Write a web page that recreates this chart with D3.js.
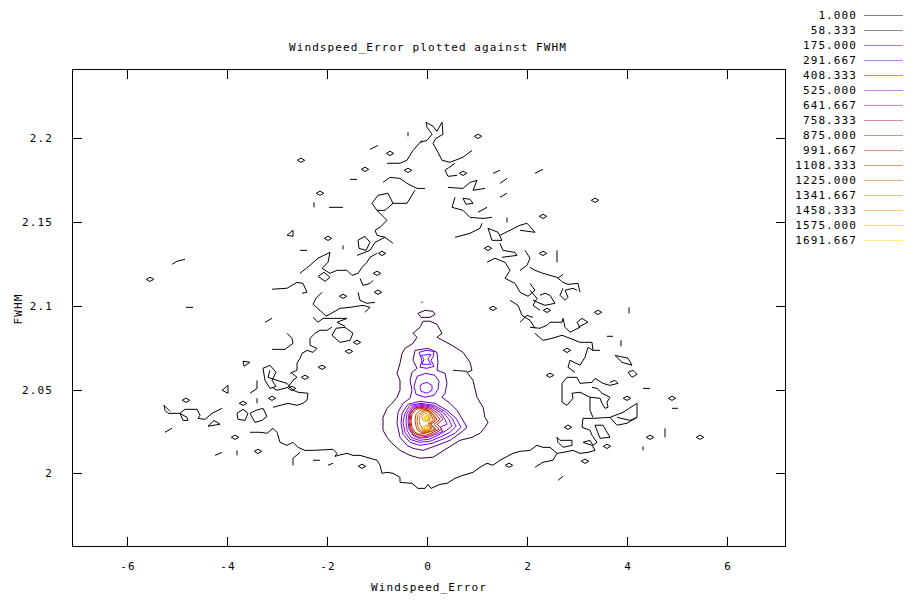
<!DOCTYPE html>
<html>
<head>
<meta charset="utf-8">
<script src="https://cdn.jsdelivr.net/npm/d3@7"></script>
<style>
body{margin:0;background:#fff}
text{font-family:"DejaVu Sans Mono",monospace;font-size:11px;letter-spacing:1.1px;fill:#000}
</style>
</head>
<body>
<svg id="chart" width="914" height="605"></svg>
<script>
const title = 'Windspeed_Error plotted against FWHM'
const xLabel = 'Windspeed_Error'
const yLabel = 'FWHM'
const xTicks = [-6, -4, -2, 0, 2, 4, 6]
const yTicks = [2, 2.05, 2.1, 2.15, 2.2]
const xRange = [-7.1, 7.16]
const yRange = [1.9563, 2.2411]
const zMax = 1750
const levels = [1, 58.333, 175, 291.667, 408.333, 525, 641.667, 758.333, 875, 991.667, 1108.333, 1225, 1341.667, 1458.333, 1575, 1691.667]

// level 1.000 : noisy edge of the distribution
const level1Lines = [
    [[-0.14,2.1976],[0,2.1988],[0.10,2.2024],[0,2.2066],[-0.02,2.2096],[0.12,2.2072],[0.20,2.2042],[0.30,2.2096],[0.32,2.2024],[0.18,2.2000],[0.12,2.1970],[0.22,2.1916],[0.30,2.1869],[0.46,2.1857],[0.72,2.1887],[0.90,2.1928]],
    [[-0.10,2.1988],[-0.28,2.1928],[-0.40,2.1869],[-0.54,2.1851],[-0.80,2.1851]],
    [[-0.88,2.1737],[-0.74,2.1767],[-0.54,2.1761],[-0.40,2.1731],[-0.20,2.1701],[-0.04,2.1701]],
    [[-0.24,2.1690],[-0.40,2.1612],[-0.68,2.1612],[-0.78,2.1672],[-0.98,2.1660],[-1.10,2.1612],[-1.00,2.1570],[-0.84,2.1570],[-0.68,2.1612]],
    [[-1.00,2.1570],[-0.80,2.1510],[-0.94,2.1469],[-1.04,2.1451],[-1.00,2.1421],[-0.84,2.1409],[-0.68,2.1373]],
    [[-1.40,2.1301],[-1.14,2.1331],[-1.04,2.1379],[-0.84,2.1409]],
    [[-1.38,2.1391],[-1.24,2.1415],[-1.14,2.1379],[-1.22,2.1331],[-1.36,2.1343],[-1.38,2.1391]],
    [[-2.54,2.1194],[-2.34,2.1242],[-2.18,2.1284],[-1.94,2.1319],[-1.98,2.1260],[-2.10,2.1224],[-1.94,2.1194],[-1.80,2.1212],[-1.60,2.1212],[-1.50,2.1182],[-1.38,2.1194],[-1.30,2.1230],[-1.20,2.1260],[-1.14,2.1290],[-1.00,2.1313]],
    [[-2.18,2.1176],[-2.06,2.1200],[-1.94,2.1170],[-2.04,2.1146],[-2.18,2.1176]],
    [[-1.34,2.1164],[-1.28,2.1122],[-1.14,2.1134],[-1.08,2.1152]],
    [[-3.10,2.1099],[-2.80,2.1105],[-2.60,2.1140],[-2.48,2.1134],[-2.40,2.1081],[-2.50,2.1075]],
    [[-1.38,2.1081],[-1.34,2.1033],[-1.20,2.1015],[-1.04,2.1021]],
    [[-2.10,2.1081],[-2.22,2.1045],[-2.28,2.1009],[-2.14,2.0973],[-2.02,2.0937],[-1.88,2.0961],[-1.74,2.0985],[-1.54,2.0991],[-1.28,2.1003],[-1.14,2.0991],[-1.24,2.0961]],
    [[-2.28,2.0931],[-2.18,2.0902],[-2.08,2.0925],[-1.94,2.0925],[-1.74,2.0925],[-1.60,2.0925],[-1.80,2.0902],[-1.64,2.0878]],
    [[-1.90,2.0824],[-1.82,2.0866],[-1.64,2.0872],[-1.48,2.0836],[-1.54,2.0794],[-1.74,2.0782],[-1.90,2.0824]],
    [[-3.10,2.0740],[-2.84,2.0740],[-2.68,2.0776],[-2.70,2.0806],[-2.80,2.0836]],
    [[-2.74,2.0597],[-2.60,2.0615],[-2.60,2.0657],[-2.54,2.0687],[-2.50,2.0716],[-2.40,2.0734],[-2.28,2.0722],[-2.20,2.0746],[-2.34,2.0764],[-2.34,2.0806],[-2.24,2.0836],[-2.14,2.0854],[-2.00,2.0854],[-1.90,2.0872]],
    [[-3.28,2.0627],[-3.14,2.0645],[-3.02,2.0603],[-3.10,2.0555],[-3.02,2.0519],[-3.14,2.0507],[-3.24,2.0555],[-3.28,2.0627]],
    [[-3.10,2.0513],[-3.00,2.0496],[-2.78,2.0513],[-2.68,2.0555],[-2.60,2.0573],[-2.70,2.0597]],
    [[-3.08,2.0394],[-2.78,2.0418],[-2.60,2.0406],[-2.48,2.0418],[-2.40,2.0436],[-2.38,2.0478],[-2.58,2.0484],[-2.68,2.0496],[-2.80,2.0537],[-3.00,2.0555],[-3.18,2.0573],[-3.14,2.0615]],
    [[-3.54,2.0358],[-3.42,2.0376],[-3.28,2.0388],[-3.20,2.0340],[-3.30,2.0316],[-3.44,2.0304],[-3.54,2.0358]],
    [[-5.24,2.0376],[-5.18,2.0358],[-4.94,2.0358],[-4.84,2.0382],[-4.60,2.0382],[-4.54,2.0346],[-4.58,2.0328],[-4.44,2.0322],[-4.30,2.0358],[-4.10,2.0388]],
    [[-5.24,2.0376],[-5.26,2.0406],[-5.14,2.0370]],
    [[-4.94,2.0358],[-4.80,2.0334],[-4.78,2.0316],[-4.88,2.0316],[-4.94,2.0358]],
    [[-3.54,2.0245],[-3.34,2.0245],[-3.20,2.0239],[-3.08,2.0269],[-3.00,2.0245],[-2.94,2.0185],[-2.80,2.0167],[-2.68,2.0185],[-2.58,2.0155],[-2.44,2.0137],[-2.28,2.0137],[-1.88,2.0143],[-1.80,2.0119],[-1.84,2.0101],[-1.78,2.0107],[-1.60,2.0119],[-1.48,2.0107],[-1.34,2.0107],[-1.14,2.0090],[-1.00,2.0078],[-0.94,2.0048],[-0.90,2.0000],[-0.80,2.0006],[-0.68,2.0000],[-0.54,1.9976],[-0.54,1.9946],[-0.30,1.9940],[-0.18,1.9910],[-0.04,1.9910],[0.02,1.9934],[0.08,1.9910],[0.26,1.9934],[0.40,1.9940],[0.56,1.9970],[0.72,1.9988],[0.92,2.0006],[1.06,2.0036],[1.20,2.0060],[1.32,2.0048],[1.46,2.0078],[1.72,2.0119],[1.86,2.0131],[2.06,2.0137],[2.20,2.0167],[2.32,2.0155],[2.46,2.0155],[2.60,2.0119],[2.72,2.0125],[2.92,2.0137],[3.06,2.0119],[3.22,2.0125],[3.36,2.0137],[3.30,2.0167],[3.12,2.0185]],
    [[-2.68,2.0048],[-2.68,2.0090],[-2.54,2.0125]],
    [[2.60,2.0119],[2.52,2.0078],[2.32,2.0066],[2.16,2.0036]],
    [[3.12,2.0185],[3.26,2.0197],[3.32,2.0167],[3.40,2.0185],[3.30,2.0227],[3.26,2.0257],[3.10,2.0275],[3.12,2.0328],[3.32,2.0328],[3.66,2.0334],[3.80,2.0287],[4.00,2.0299],[4.20,2.0334],[4.20,2.0418],[3.92,2.0364],[3.66,2.0334]],
    [[3.80,2.0334],[4.06,2.0316],[4.20,2.0334]],
    [[3.32,2.0334],[3.26,2.0376],[3.26,2.0454],[3.06,2.0484],[2.90,2.0478],[2.92,2.0448],[2.80,2.0406],[2.70,2.0424],[2.70,2.0537],[2.80,2.0573],[3.00,2.0573],[3.06,2.0537],[3.30,2.0543],[3.36,2.0567],[3.52,2.0537],[3.66,2.0525],[3.82,2.0537],[3.76,2.0555],[3.66,2.0543]],
    [[3.26,2.0454],[3.46,2.0448],[3.50,2.0418],[3.56,2.0388],[3.62,2.0394],[3.60,2.0424],[3.66,2.0454],[3.50,2.0478],[3.40,2.0507],[3.30,2.0513]],
    [[3.36,2.0287],[3.52,2.0287],[3.66,2.0215],[3.46,2.0209],[3.36,2.0287]],
    [[2.60,2.0215],[2.66,2.0197],[2.90,2.0197],[2.90,2.0167],[2.72,2.0155],[2.62,2.0185],[2.60,2.0215]],
    [[2.96,2.0603],[2.82,2.0633],[2.86,2.0675],[3.06,2.0645],[3.16,2.0693],[3.22,2.0752],[3.32,2.0734],[3.46,2.0734]],
    [[2.16,2.0836],[2.32,2.0794],[2.50,2.0806],[2.70,2.0824],[2.86,2.0806],[3.06,2.0782],[3.30,2.0782],[3.32,2.0734]],
    [[2.06,2.0872],[2.26,2.0866],[2.40,2.0884],[2.46,2.0902],[2.70,2.0902],[2.72,2.0925],[2.76,2.0872],[2.86,2.0842],[3.06,2.0872],[3.00,2.0902],[3.10,2.0925],[3.22,2.0902],[3.02,2.0872]],
    [[2.06,2.1230],[2.16,2.1212],[2.32,2.1194],[2.46,2.1182],[2.60,2.1170],[2.72,2.1140],[2.82,2.1128],[3.02,2.1134],[3.06,2.1081]],
    [[2.72,2.1105],[2.66,2.1063],[2.76,2.1033],[2.82,2.1051],[2.76,2.1093],[2.92,2.1105],[3.00,2.1093]],
    [[2.12,2.1033],[2.26,2.1015],[2.36,2.1003],[2.56,2.1015],[2.46,2.1063],[2.36,2.1075],[2.26,2.1063]],
    [[3.76,2.0704],[4.02,2.0687],[4.10,2.0645],[3.90,2.0663],[3.76,2.0704]],
    [[4.02,2.0603],[4.12,2.0615],[4.20,2.0591],[4.10,2.0573],[4.02,2.0603]],
    [[0.42,2.1707],[0.72,2.1701],[0.86,2.1737],[1.00,2.1749],[0.92,2.1690],[1.16,2.1701]],
    [[0.56,2.1648],[0.50,2.1588],[0.72,2.1570],[0.86,2.1528],[1.12,2.1522],[1.30,2.1528]],
    [[0.72,2.1642],[0.86,2.1636],[0.92,2.1612],[0.78,2.1606],[0.72,2.1642]],
    [[0.56,2.1409],[0.86,2.1433],[1.06,2.1463],[1.10,2.1493]],
    [[1.22,2.1463],[1.42,2.1439],[1.50,2.1391],[1.30,2.1391],[1.22,2.1463]],
    [[1.46,2.1421],[1.86,2.1481],[2.00,2.1493],[2.16,2.1439],[1.86,2.1451]],
    [[1.46,2.1373],[1.52,2.1331],[1.76,2.1319],[1.80,2.1301],[1.50,2.1290]],
    [[0.56,2.1851],[0.36,2.1809],[0.42,2.1773],[0.60,2.1779]],
    [[1.20,2.1260],[1.36,2.1284],[1.56,2.1260],[1.66,2.1212],[1.56,2.1164],[1.76,2.1134],[1.86,2.1081],[2.02,2.1057],[2.16,2.1093],[2.06,2.1134]],
    [[1.66,2.1033],[1.82,2.1003],[1.90,2.0943],[2.06,2.0913],[2.16,2.0866]],
    [[1.86,2.1212],[2.00,2.1242],[2.06,2.1284],[1.96,2.1331]],
    [[2.06,2.1093],[2.20,2.1045],[2.12,2.1003],[2.26,2.0973]],
    [[1.86,2.0902],[2.00,2.0943],[2.12,2.0931]],
    [[-5.10,2.1248],[-5.00,2.1266],[-4.84,2.1278]],
    [[-3.40,2.0555],[-3.40,2.0507],[-3.54,2.0478]],
    [[-3.98,2.0525],[-4.10,2.0496],[-3.98,2.0478],[-3.98,2.0525]],
    [[-4.38,2.0281],[-4.26,2.0316],[-4.14,2.0293],[-4.38,2.0281]],
    [[-3.80,2.0358],[-3.68,2.0382],[-3.58,2.0358],[-3.64,2.0316],[-3.78,2.0322],[-3.80,2.0358]],
    [[-3.68,2.0669],[-3.54,2.0663],[-3.66,2.0639],[-3.68,2.0669]],
    [[-2.80,2.1421],[-2.68,2.1451],[-2.68,2.1415],[-2.80,2.1421]]
]

// level 1.000 : tiny closed loops (centres)
const level1Loops = [
    [-2.52,2.1869],[-1.24,2.1815],[-2.14,2.1672],[-1.98,2.1403],[-0.90,2.1313],[-0.38,2.1809],[1.02,2.2012],[0.72,2.1791],
    [2.32,2.1534],[3.36,2.1630],[1.22,2.1343],[2.32,2.1313],[-5.54,2.1158],[-1.00,2.1194],[-0.98,2.1081],[-1.40,2.0782],
    [-2.10,2.0633],[-2.44,2.0573],[-2.70,2.0507],[-3.10,2.0448],[-3.68,2.0418],[-4.82,2.0436],[-3.84,2.0215],[-3.38,2.0131],
    [3.42,2.0961],[2.40,2.0973],[2.46,2.0585],[4.00,2.0448],[4.90,2.0448],[4.46,2.0215],[5.46,2.0215],[3.60,2.0161],
    [3.16,2.0072],[2.80,2.0734],[2.82,2.0275],[-0.74,2.1910],[-1.56,2.0728],[-1.68,2.1057],[-1.30,2.0042],[1.64,2.0048],
    [1.32,2.0985]
]

// level 1.000 : short open pieces [x1, y1, x2, y2]
const level1Ticks = [
    [-1.14,2.1934,-0.98,2.1958],[-0.38,2.2036,-0.38,2.2012],[-1.54,2.1755,-1.40,2.1755],[-2.26,2.1618,-2.26,2.1588],
    [-1.96,2.1588,-1.68,2.1588],[-2.54,2.1331,-2.40,2.1331],[-1.68,2.1361,-1.68,2.1337],[1.32,2.1791,1.46,2.1809],
    [2.16,2.1791,2.32,2.1815],[1.46,2.1731,1.60,2.1761],[1.46,2.1648,1.60,2.1672],[1.02,2.1558,1.20,2.1588],
    [1.60,2.1528,1.60,2.1498],[2.60,2.1331,2.60,2.1260],[2.62,2.1164,2.72,2.1188],[4.04,2.0991,4.04,2.0955],
    [3.60,2.0818,3.72,2.0818],[3.88,2.0794,3.88,2.0758],[4.32,2.0507,4.46,2.0507],[4.90,2.0388,5.02,2.0388],
    [4.76,2.0269,4.76,2.0215],[4.32,2.0161,4.32,2.0137],[2.62,1.9958,2.72,1.9982],[-5.24,2.0245,-5.10,2.0269],
    [-4.24,2.0107,-4.10,2.0125],[-3.80,2.0137,-3.80,2.0107],[-4.82,2.0991,-4.68,2.0991],[-3.24,2.0902,-3.10,2.0925],
    [-3.40,2.0448,-3.40,2.0418],[-2.28,2.0078,-2.14,2.0078],[-1.98,2.0048,-1.88,2.0060],[-0.10,2.1025,-0.10,2.1017]
]

const level58Lines = [
    [[0.20,2.0890],[0.30,2.0836],[0.20,2.0812],[0.50,2.0764],[0.72,2.0722],[0.86,2.0663],[0.90,2.0615],[0.80,2.0603],[0.92,2.0555],[1.00,2.0454],[1.12,2.0394],[1.16,2.0334],[1.22,2.0304],[1.16,2.0275],[1.06,2.0239],[0.90,2.0215],[0.66,2.0197],[0.40,2.0149],[0.12,2.0096],[-0.14,2.0090],[-0.34,2.0107],[-0.54,2.0137],[-0.70,2.0179],[-0.80,2.0215],[-0.88,2.0257],[-0.88,2.0334],[-0.80,2.0388],[-0.70,2.0418],[-0.60,2.0454],[-0.54,2.0496],[-0.54,2.0555],[-0.60,2.0597],[-0.54,2.0657],[-0.50,2.0716],[-0.44,2.0746],[-0.28,2.0776],[-0.20,2.0812],[-0.28,2.0836],[-0.14,2.0872],[-0.08,2.0908],[0.06,2.0908],[0.20,2.0890]],
    [[-0.18,2.0955],[-0.04,2.0973],[0.12,2.0967],[0.16,2.0949],[0.06,2.0931],[-0.12,2.0931],[-0.18,2.0955]],
    [[0.52,2.0615],[0.80,2.0609]]
]

const level175Lines = [
    [[-0.24,2.0734],[0.02,2.0746],[0.20,2.0722],[0.22,2.0663],[0.20,2.0615],[0.36,2.0597],[0.40,2.0537],[0.36,2.0478],[0.30,2.0454],[0.46,2.0418],[0.60,2.0376],[0.72,2.0316],[0.80,2.0275],[0.66,2.0239],[0.46,2.0197],[0.20,2.0167],[-0.08,2.0137],[-0.28,2.0149],[-0.40,2.0167],[-0.54,2.0215],[-0.60,2.0299],[-0.58,2.0364],[-0.48,2.0418],[-0.34,2.0448],[-0.30,2.0496],[-0.34,2.0555],[-0.30,2.0603],[-0.20,2.0627],[-0.28,2.0675],[-0.24,2.0734]]
]

const level291Lines = [
    [[-0.16,2.0722],[-0.02,2.0734],[0.14,2.0728],[0.12,2.0693],[0.08,2.0675],[0.14,2.0639],[0,2.0627],[-0.14,2.0633],[-0.10,2.0675],[-0.16,2.0722]],
    [[-0.20,2.0579],[-0.02,2.0597],[0.16,2.0585],[0.24,2.0549],[0.22,2.0501],[0.14,2.0466],[-0.04,2.0454],[-0.22,2.0472],[-0.26,2.0519],[-0.20,2.0579]],
    [[-0.50,2.0358],[-0.38,2.0412],[-0.14,2.0430],[0.16,2.0418],[0.40,2.0376],[0.58,2.0328],[0.68,2.0275],[0.56,2.0239],[0.36,2.0209],[0.10,2.0179],[-0.14,2.0167],[-0.34,2.0185],[-0.48,2.0233],[-0.52,2.0299],[-0.50,2.0358]]
]

const level408Lines = [
    [[-0.12,2.0704],[0.08,2.0710],[0.02,2.0681],[0.08,2.0651],[-0.10,2.0651],[-0.06,2.0681],[-0.12,2.0704]],
    [[-0.12,2.0531],[0,2.0543],[0.10,2.0525],[0.10,2.0496],[0,2.0478],[-0.12,2.0490],[-0.14,2.0513],[-0.12,2.0531]],
    [[-0.44,2.0358],[-0.34,2.0406],[-0.12,2.0418],[0.14,2.0406],[0.36,2.0370],[0.50,2.0328],[0.58,2.0281],[0.46,2.0245],[0.30,2.0221],[0.06,2.0191],[-0.16,2.0185],[-0.34,2.0203],[-0.44,2.0245],[-0.48,2.0304],[-0.44,2.0358]]
]

const level525Lines = [
    [[-0.40,2.0358],[-0.30,2.0400],[-0.12,2.0412],[0.12,2.0400],[0.32,2.0364],[0.44,2.0322],[0.50,2.0281],[0.36,2.0251],[0.22,2.0227],[0.04,2.0203],[-0.16,2.0197],[-0.32,2.0215],[-0.40,2.0257],[-0.42,2.0310],[-0.40,2.0358]]
]
const level641Lines = [
    [[-0.36,2.0358],[-0.28,2.0394],[-0.10,2.0406],[0.10,2.0394],[0.26,2.0364],[0.36,2.0322],[0.40,2.0293],[0.26,2.0275],[0.32,2.0251],[0.18,2.0233],[0.02,2.0215],[-0.16,2.0209],[-0.28,2.0227],[-0.36,2.0263],[-0.38,2.0310],[-0.36,2.0358]]
]
const level758Lines = [
    [[-0.34,2.0358],[-0.26,2.0388],[-0.10,2.0400],[0.08,2.0388],[0.22,2.0358],[0.32,2.0322],[0.20,2.0293],[0.30,2.0263],[0.16,2.0239],[0,2.0221],[-0.16,2.0215],[-0.28,2.0233],[-0.34,2.0269],[-0.36,2.0310],[-0.34,2.0358]]
]
const level875Lines = [
    [[-0.32,2.0358],[-0.24,2.0388],[-0.10,2.0394],[0.06,2.0382],[0.18,2.0352],[0.26,2.0322],[0.14,2.0293],[0.24,2.0263],[0.12,2.0245],[-0.02,2.0227],[-0.16,2.0227],[-0.26,2.0239],[-0.32,2.0269],[-0.34,2.0310],[-0.32,2.0358]]
]
const level991Lines = [
    [[-0.30,2.0352],[-0.22,2.0382],[-0.10,2.0388],[0.04,2.0376],[0.14,2.0346],[0.20,2.0322],[0.08,2.0293],[0.18,2.0263],[0.08,2.0251],[-0.04,2.0239],[-0.16,2.0233],[-0.24,2.0245],[-0.30,2.0275],[-0.32,2.0310],[-0.30,2.0352]]
]
const level1108Lines = [
    [[-0.22,2.0352],[-0.14,2.0376],[-0.04,2.0382],[0.06,2.0370],[0.13,2.0346],[0.16,2.0322],[0.06,2.0293],[0.15,2.0263],[0.08,2.0251],[-0.02,2.0245],[-0.12,2.0245],[-0.19,2.0257],[-0.22,2.0281],[-0.24,2.0316],[-0.22,2.0352]]
]
const level1225Lines = [
    [[-0.18,2.0346],[-0.10,2.0370],[-0.02,2.0376],[0.06,2.0364],[0.10,2.0340],[0.12,2.0322],[0.04,2.0293],[0.10,2.0269],[0.05,2.0257],[-0.02,2.0251],[-0.10,2.0251],[-0.16,2.0263],[-0.19,2.0287],[-0.20,2.0316],[-0.18,2.0346]]
]
const level1341Lines = [
    [[-0.14,2.0340],[-0.08,2.0364],[0,2.0370],[0.06,2.0358],[0.08,2.0334],[0.04,2.0310],[0.02,2.0287],[0.08,2.0269],[0.03,2.0257],[-0.04,2.0257],[-0.10,2.0269],[-0.14,2.0293],[-0.16,2.0316],[-0.14,2.0340]]
]
const level1458Lines = [
    [[-0.10,2.0340],[-0.04,2.0358],[0.02,2.0352],[0.05,2.0328],[0,2.0310],[-0.08,2.0316],[-0.10,2.0340]],
    [[-0.10,2.0269],[-0.04,2.0287],[0.03,2.0281],[0.05,2.0261],[-0.02,2.0257],[-0.10,2.0260],[-0.10,2.0269]]
]
const level1575Lines = [
    [[-0.06,2.0334],[0,2.0346],[0.03,2.0328],[-0.02,2.0316],[-0.06,2.0334]],
    [[-0.06,2.0272],[0,2.0278],[0.02,2.0263],[-0.04,2.0262],[-0.06,2.0272]]
]
const level1691Lines = [
    [[-0.03,2.0336],[0.01,2.0336],[0.01,2.0324],[-0.03,2.0324],[-0.03,2.0336]]
]

const linesByLevel = [level1Lines, level58Lines, level175Lines, level291Lines, level408Lines, level525Lines, level641Lines,
    level758Lines, level875Lines, level991Lines, level1108Lines, level1225Lines, level1341Lines, level1458Lines,
    level1575Lines, level1691Lines]

function palette(z){
    // gnuplot rgbformulae 7,5,15
    let f = Math.max(0, Math.min(1, z / zMax))
    return d3.rgb(255 * Math.sqrt(f), 255 * f * f * f, 255 * Math.max(0, Math.sin(2 * Math.PI * f))).formatHex()
}

let svg = d3.select('#chart')
let x = d3.scaleLinear().domain(xRange).range([72, 785])
let y = d3.scaleLinear().domain(yRange).range([546.5, 69.5])

svg.append('defs').append('clipPath').attr('id', 'plotClip')
    .append('rect').attr('x', 72).attr('y', 69.5).attr('width', 713).attr('height', 477)

svg.append('text')
    .text(title)
    .attr('x', 428)
    .attr('y', 51)
    .attr('text-anchor', 'middle')

// frame
svg.append('rect')
    .attr('x', 72.5).attr('y', 69.5)
    .attr('width', 713).attr('height', 477)
    .attr('fill', 'none')
    .attr('stroke', '#000')
    .attr('stroke-width', 1)

let ticks = svg.append('g').attr('stroke', '#000').attr('stroke-width', 1)
xTicks.forEach(t => {
    let px = Math.round(x(t)) + 0.5
    ticks.append('line').attr('x1', px).attr('x2', px).attr('y1', 546.5).attr('y2', 537)
    ticks.append('line').attr('x1', px).attr('x2', px).attr('y1', 69.5).attr('y2', 79)
})
yTicks.forEach(t => {
    let py = Math.round(y(t)) + 0.5
    ticks.append('line').attr('x1', 72.5).attr('x2', 82).attr('y1', py).attr('y2', py)
    ticks.append('line').attr('x1', 785.5).attr('x2', 776).attr('y1', py).attr('y2', py)
})

svg.append('g').selectAll('text')
    .data(xTicks)
    .join('text')
    .text(d => d3.format('d')(d).replace('−', '-'))
    .attr('x', d => x(d) + 1)
    .attr('y', 570)
    .attr('text-anchor', 'middle')

svg.append('g').selectAll('text')
    .data(yTicks)
    .join('text')
    .text(d => String(d))
    .attr('x', 53)
    .attr('y', d => y(d) + 4)
    .attr('text-anchor', 'end')

svg.append('text')
    .text(xLabel)
    .attr('x', 429)
    .attr('y', 591)
    .attr('text-anchor', 'middle')

svg.append('text')
    .text(yLabel)
    .attr('transform', 'translate(22,309)rotate(-90)')
    .attr('text-anchor', 'middle')

// contours
let line = d3.line().x(d => x(d[0])).y(d => y(d[1]))
let plot = svg.append('g').attr('clip-path', 'url(#plotClip)')

levels.forEach((lv, i) => {
    plot.append('g')
        .selectAll('path')
        .data(linesByLevel[i])
        .join('path')
        .attr('d', line)
        .attr('fill', 'none')
        .attr('stroke', palette(lv))
        .attr('stroke-width', 1)
})

plot.append('g')
    .selectAll('path')
    .data(level1Loops)
    .join('path')
    .attr('d', d3.symbol().type(d3.symbolDiamond).size(16))
    .attr('transform', d => `translate(${x(d[0])},${y(d[1])})rotate(90)`)
    .attr('fill', 'none')
    .attr('stroke', palette(levels[0]))
    .attr('stroke-width', 1)

plot.append('g')
    .selectAll('line')
    .data(level1Ticks)
    .join('line')
    .attr('x1', d => x(d[0])).attr('y1', d => y(d[1]))
    .attr('x2', d => x(d[2])).attr('y2', d => y(d[3]))
    .attr('stroke', palette(levels[0]))
    .attr('stroke-width', 1)

// key
let key = svg.append('g')
levels.forEach((lv, i) => {
    let ky = 15 + i * 15
    key.append('text')
        .text(d3.format('.3f')(lv))
        .attr('x', 857)
        .attr('y', ky + 4)
        .attr('text-anchor', 'end')
    key.append('line')
        .attr('x1', 864).attr('x2', 903)
        .attr('y1', ky + 0.5).attr('y2', ky + 0.5)
        .attr('stroke', palette(lv))
        .attr('stroke-opacity', 0.5)
        .attr('stroke-width', 1)
})
</script>
</body>
</html>
